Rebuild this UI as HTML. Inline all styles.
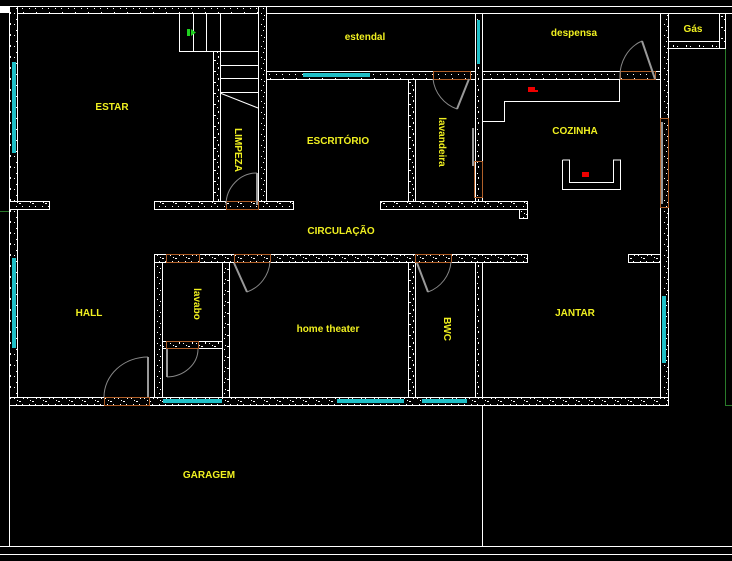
<!DOCTYPE html>
<html><head><meta charset="utf-8"><style>
html,body{margin:0;padding:0;background:#000;}
svg{display:block;}
text{font-family:"Liberation Sans",sans-serif;font-weight:bold;font-size:10px;fill:#f0f020;}
</style></head><body>
<svg width="732" height="561" viewBox="0 0 732 561" xmlns="http://www.w3.org/2000/svg">
<defs>
<pattern id="sp" width="13" height="11" patternUnits="userSpaceOnUse">
<rect width="13" height="11" fill="#000"/>
<rect x="1" y="2" width="1" height="1" fill="#fff"/>
<rect x="6" y="5" width="2" height="1" fill="#fff"/>
<rect x="10" y="1" width="1" height="2" fill="#fff"/>
<rect x="3" y="8" width="1" height="1" fill="#fff"/>
<rect x="9" y="8" width="1" height="1" fill="#fff"/>
<rect x="4" y="4" width="1" height="1" fill="#fff"/>
</pattern>
</defs>
<rect width="732" height="561" fill="#000"/>
<rect x="0" y="6" width="9" height="7" fill="#fff"/>
<!-- right top lines -->
<line x1="266" y1="6.5" x2="732" y2="6.5" stroke="#fff"/>
<line x1="266" y1="13.5" x2="732" y2="13.5" stroke="#fff"/>
<g fill="url(#sp)" stroke="#fff" stroke-width="1">
<!-- outer top & left -->
<rect x="9.5" y="6.5" width="257" height="7"/>
<rect x="9.5" y="6.5" width="8" height="398"/>
<!-- walls -->
<rect x="9.5" y="201.5" width="40" height="8"/>
<rect x="154.5" y="201.5" width="139" height="8"/>
<rect x="380.5" y="201.5" width="147" height="8"/>
<rect x="519.5" y="209.5" width="8" height="9"/>
<rect x="213.5" y="51.5" width="7" height="150"/>
<rect x="258.5" y="6.5" width="8" height="195"/>
<rect x="266.5" y="71.5" width="209" height="8"/>
<rect x="408.5" y="79.5" width="7" height="122"/>
<rect x="475.5" y="13.5" width="7" height="188"/>
<rect x="482.5" y="71.5" width="178" height="8"/>
<rect x="660.5" y="13.5" width="8" height="391"/>
<rect x="719.5" y="13.5" width="6" height="35"/>
<rect x="668.5" y="41.5" width="51" height="7"/>
<rect x="154.5" y="254.5" width="373" height="8"/>
<rect x="628.5" y="254.5" width="32" height="8"/>
<rect x="154.5" y="262.5" width="8" height="135"/>
<rect x="222.5" y="262.5" width="7" height="135"/>
<rect x="162.5" y="341.5" width="60" height="7"/>
<rect x="408.5" y="262.5" width="7" height="135"/>
<rect x="475.5" y="262.5" width="7" height="135"/>
<rect x="9.5" y="397.5" width="659" height="8"/>
</g>
<!-- stair -->
<g stroke="#fff" fill="none">
<rect x="179.5" y="13.5" width="79" height="38"/>
<line x1="193.5" y1="13" x2="193.5" y2="51"/>
<line x1="206.5" y1="13" x2="206.5" y2="51"/>
<line x1="220.5" y1="13" x2="220.5" y2="92"/>
<line x1="220" y1="65.5" x2="258" y2="65.5"/>
<line x1="220" y1="78.5" x2="258" y2="78.5"/>
<line x1="220" y1="92.5" x2="258" y2="92.5"/>
<line x1="220" y1="93" x2="258" y2="108"/>
<!-- kitchen counter -->
<polyline points="483,121.5 504.5,121.5 504.5,101.5 619.5,101.5 619.5,79"/>
<polyline points="562.5,160 562.5,189.5 620.5,189.5 620.5,160 613.5,160 613.5,182.5 569.5,182.5 569.5,160 562.5,160"/>
<!-- garage -->
<line x1="9.5" y1="405" x2="9.5" y2="546"/>
<line x1="482.5" y1="405" x2="482.5" y2="546"/>
<line x1="0" y1="546.5" x2="732" y2="546.5"/>
<line x1="0" y1="554.5" x2="732" y2="554.5"/>
</g>
<line x1="725.5" y1="49" x2="725.5" y2="405" stroke="#2a7a2a"/>
<line x1="725" y1="405.5" x2="732" y2="405.5" stroke="#2a7a2a"/>
<line x1="0" y1="211.5" x2="9" y2="211.5" stroke="#2a7a2a"/>
<!-- windows cyan -->
<g fill="#20c0c8">
<rect x="12" y="62" width="4" height="91"/>
<rect x="12" y="258" width="4" height="90"/>
<rect x="303" y="73" width="67" height="4"/>
<rect x="477" y="20" width="3" height="44"/>
<rect x="662" y="296" width="4" height="67"/>
<rect x="163" y="399" width="59" height="4"/>
<rect x="337" y="399" width="67" height="4"/>
<rect x="422" y="399" width="45" height="4"/>
</g>
<!-- doors -->
<g fill="none" stroke="#b0602a">
<rect x="104.5" y="397.5" width="45" height="8"/>
<rect x="166.5" y="254.5" width="33" height="8"/>
<rect x="234.5" y="254.5" width="36" height="8"/>
<rect x="415.5" y="254.5" width="36" height="8"/>
<rect x="166.5" y="341.5" width="32" height="7"/>
<rect x="226.5" y="201.5" width="32" height="8"/>
<rect x="433.5" y="71.5" width="37" height="8"/>
<rect x="620.5" y="71.5" width="35" height="8"/>
<rect x="474.5" y="161.5" width="8" height="36"/>
<rect x="660.5" y="118.5" width="8" height="89"/>
</g>
<g fill="none" stroke="#888" stroke-width="1">
<path d="M104,397 A44,40 0 0 1 148,357"/>
<path d="M226,205 A31,32 0 0 1 257,173"/>
<path d="M247,292 A35,35 0 0 0 270,262"/>
<path d="M428,292 A35,35 0 0 0 451,262"/>
<path d="M167,377 A32,28 0 0 0 198,349"/>
<path d="M433,79 A36,36 0 0 0 457,109"/>
<path d="M620,79 A35,38 0 0 1 642,41"/>
</g>
<g stroke="#999" stroke-width="2">
<line x1="148" y1="357" x2="148" y2="397"/>
<line x1="257" y1="173" x2="257" y2="205"/>
<line x1="234" y1="263" x2="247" y2="292"/>
<line x1="417" y1="263" x2="428" y2="292"/>
<line x1="167" y1="349" x2="167" y2="377"/>
<line x1="469" y1="79" x2="457" y2="109"/>
<line x1="655" y1="79" x2="642" y2="41"/>
<line x1="473" y1="128" x2="473" y2="166"/>
<line x1="662" y1="122" x2="662" y2="204"/>
</g>
<!-- red -->
<rect x="528" y="87" width="7" height="5" fill="#e00"/>
<rect x="534" y="90" width="4" height="2" fill="#e00"/>
<rect x="582" y="172" width="7" height="5" fill="#e00"/>
<!-- green arrow -->
<rect x="187" y="29" width="3" height="7" fill="#20d020"/>
<path d="M191,29 L196,32.5 L191,36 Z" fill="#20d020"/>
<!-- labels -->
<g text-anchor="middle">
<text x="112" y="110">ESTAR</text>
<text x="338" y="144">ESCRITÓRIO</text>
<text x="365" y="40">estendal</text>
<text x="574" y="36">despensa</text>
<text x="693" y="32">Gás</text>
<text x="575" y="134">COZINHA</text>
<text x="341" y="234">CIRCULAÇÃO</text>
<text x="89" y="316">HALL</text>
<text x="328" y="332">home theater</text>
<text x="575" y="316">JANTAR</text>
<text x="209" y="478">GARAGEM</text>
<text transform="translate(235,150) rotate(90)">LIMPEZA</text>
<text transform="translate(439,142) rotate(90)">lavandeira</text>
<text transform="translate(194,304) rotate(90)">lavabo</text>
<text transform="translate(444,329) rotate(90)">BWC</text>
</g>
</svg>
</body></html>
